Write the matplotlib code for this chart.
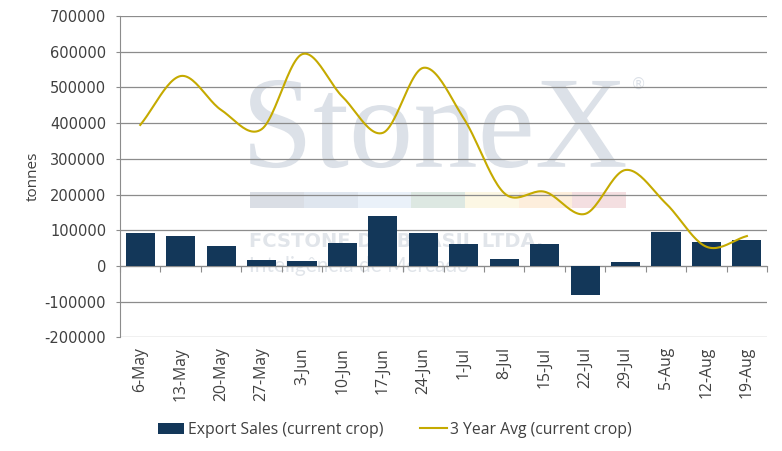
import numpy as np
import matplotlib
matplotlib.use("Agg")
import matplotlib.pyplot as plt
from matplotlib.textpath import TextPath
from matplotlib.patches import PathPatch
from matplotlib.font_manager import FontProperties
from matplotlib.transforms import Affine2D

weeks = ["6-May", "13-May", "20-May", "27-May", "3-Jun", "10-Jun", "17-Jun", "24-Jun",
         "1-Jul", "8-Jul", "15-Jul", "22-Jul", "29-Jul", "5-Aug", "12-Aug", "19-Aug"]
export_sales = [93000, 84000, 56000, 17000, 14000, 64000, 140000, 92000,
                62000, 20000, 62000, -80000, 11000, 95000, 67000, 73000]
avg_3yr = [395000, 532000, 437000, 383000, 593000, 474000, 373000, 555000,
           413000, 204000, 208000, 146000, 269000, 175000, 54000, 84000]

strip_colors = ["#dadee5", "#dfe6ef", "#eaf1f9", "#dde8e2", "#fcf7e4", "#fdeedc", "#f4dfe1"]

BAR = "#133759"
LINE = "#c5aa00"
GRID = "#8c8c8c"
TXT = "#404040"
WM = "#dce1e8"
LBL_FONT = ["Open Sans", "DejaVu Sans"]

plt.rcParams["axes.unicode_minus"] = False


def smooth(x, y, n=24):
    # catmull-rom, like excel's "smoothed line"
    x = np.asarray(x, float)
    y = np.asarray(y, float)
    px = np.concatenate([[2 * x[0] - x[1]], x, [2 * x[-1] - x[-2]]])
    py = np.concatenate([[2 * y[0] - y[1]], y, [2 * y[-1] - y[-2]]])
    xs, ys = [], []
    t = np.linspace(0, 1, n, endpoint=False)
    for i in range(1, len(px) - 2):
        for p, out in ((px, xs), (py, ys)):
            p0, p1, p2, p3 = p[i - 1], p[i], p[i + 1], p[i + 2]
            out.extend(0.5 * ((2 * p1) + (-p0 + p2) * t
                              + (2 * p0 - 5 * p1 + 4 * p2 - p3) * t ** 2
                              + (-p0 + 3 * p1 - 3 * p2 + p3) * t ** 3))
    xs.append(x[-1])
    ys.append(y[-1])
    return np.array(xs), np.array(ys)


fig = plt.figure(figsize=(7.82, 4.51), dpi=100)
ax = fig.add_axes([0.1535, 0.2517, 0.8275, 0.7128])

pos = np.arange(len(weeks))
bars = ax.bar(pos, export_sales, width=0.72, color=BAR, zorder=2, label="Export Sales (current crop)")
sx, sy = smooth(pos, avg_3yr)
line, = ax.plot(sx, sy, color=LINE, lw=1.5, zorder=3, label="3 Year Avg (current crop)")

ax.set_xlim(-0.5, len(weeks) - 0.5)
ax.set_ylim(-200000, 700000)
ax.set_yticks(np.arange(-200000, 700001, 100000))
ax.yaxis.grid(True, color=GRID, lw=0.9)
ax.set_axisbelow(True)
for s in ["top", "right", "bottom"]:
    ax.spines[s].set_visible(False)
ax.spines["left"].set_color(GRID)
ax.tick_params(axis="y", length=3, color=GRID, labelsize=10.5, labelcolor=TXT, pad=7)

ax.set_xticks(pos)
ax.set_xticklabels(weeks, rotation=90, fontsize=11.3, color=TXT, family=LBL_FONT)
ax.tick_params(axis="x", length=0, pad=7)
ax.set_ylabel("tonnes", fontsize=11, color=TXT, family=LBL_FONT, labelpad=3)

# category axis crossing at zero
zero_ax = ax.secondary_xaxis(2 / 9)
zero_ax.set_xticks(np.arange(len(weeks) + 1) - 0.5)
zero_ax.set_xticklabels([])
zero_ax.tick_params(length=4, color=GRID, direction="out")
zero_ax.spines["bottom"].set_color(GRID)

# watermark logo, stretched into its box
tp = TextPath((0, 0), "StoneX", size=100, prop=FontProperties(family="Liberation Serif"))
ext = tp.get_extents()
x0, x1, y0, y1 = 0.201, 0.781, 0.527, 0.801
tr = (Affine2D().translate(-ext.x0, -ext.y0)
      .scale((x1 - x0) / ext.width, (y1 - y0) / ext.height)
      .translate(x0, y0) + ax.transAxes)
ax.add_patch(PathPatch(tp, transform=tr, color=WM, lw=0, zorder=0))
ax.text(0.79, 0.775, "®", transform=ax.transAxes, fontsize=11, color=WM, zorder=0)
for i, c in enumerate(strip_colors):
    ax.add_patch(plt.Rectangle((0.201 + i * 0.083, 0.403), 0.083, 0.049,
                               transform=ax.transAxes, color=c, zorder=0, lw=0))
ax.text(0.2, 0.28, "FCSTONE DO BRASIL LTDA.", transform=ax.transAxes, fontsize=14,
        fontweight="bold", family="DejaVu Sans", color="#e1e5ea", zorder=0)
ax.text(0.2, 0.205, "Inteligência de Mercado", transform=ax.transAxes, fontsize=15,
        family="Lato", color="#e1e5ea", zorder=0)

fig.legend([bars, line], ["Export Sales (current crop)", "3 Year Avg (current crop)"],
           loc="center", bbox_to_anchor=(0.505, 0.047), ncol=2, frameon=False,
           prop={"family": LBL_FONT, "size": 11.3}, labelcolor=TXT,
           handlelength=1.7, handletextpad=0.25, columnspacing=2.3)

fig.savefig("out.png", dpi=100)
